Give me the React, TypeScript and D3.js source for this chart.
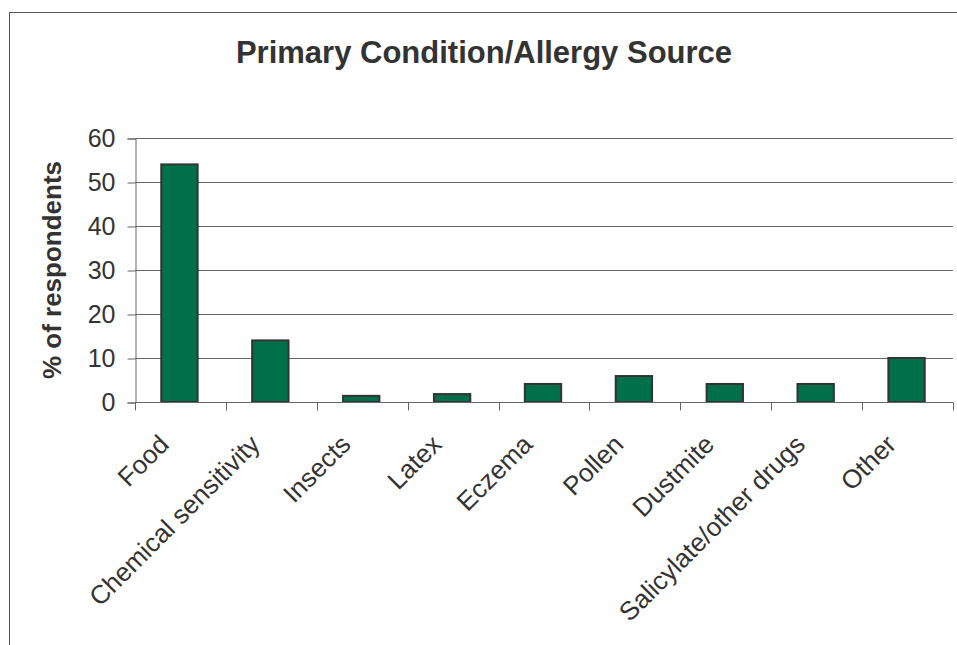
import React, { useEffect, useRef } from 'react';
import * as d3 from 'd3';

const categories = [
  'Food',
  'Chemical sensitivity',
  'Insects',
  'Latex',
  'Eczema',
  'Pollen',
  'Dustmite',
  'Salicylate/other drugs',
  'Other',
];
const values = [54, 14, 1.4, 1.8, 4.1, 5.9, 4.1, 4.1, 10];
const yTicks = [0, 10, 20, 30, 40, 50, 60];

const App: React.FC = () => {
  const svgRef = useRef<SVGSVGElement>(null);

  useEffect(() => {
    if (!svgRef.current) return;
    const svg = d3.select(svgRef.current);
    svg.selectAll('*').remove();

    const width = 957;
    const height = 645;
    const left = 135;
    const right = 953;
    const top = 138;
    const bottom = 402;
    const textColor = '#333333';
    const lineColor = '#666666';
    const font = 'Arial, "Liberation Sans", Helvetica, sans-serif';

    svg.attr('width', width).attr('height', height);

    // outer chart frame (only left and top edges visible)
    svg.append('rect')
      .attr('x', 9.5)
      .attr('y', 12.5)
      .attr('width', 1000)
      .attr('height', 1000)
      .attr('fill', 'white')
      .attr('stroke', '#555')
      .attr('stroke-width', 1);

    const x = d3.scaleBand<string>().domain(categories).range([left, right]).padding(0);
    const y = d3.scaleLinear().domain([0, 60]).range([bottom, top]);

    // title
    svg.append('text')
      .attr('x', 484)
      .attr('y', 63)
      .attr('text-anchor', 'middle')
      .style('font-family', font)
      .style('font-size', '31px')
      .style('font-weight', 'bold')
      .attr('fill', textColor)
      .text('Primary Condition/Allergy Source');

    // gridlines
    svg.append('g')
      .selectAll('line')
      .data(yTicks.filter((t) => t > 0))
      .enter().append('line')
      .attr('x1', left)
      .attr('x2', right)
      .attr('y1', (d) => Math.round(y(d)) + 0.5)
      .attr('y2', (d) => Math.round(y(d)) + 0.5)
      .attr('stroke', lineColor)
      .attr('stroke-width', 1);

    // y axis
    const yAxis = svg.append('g')
      .attr('transform', `translate(${left + 0.5},0.5)`)
      .call(d3.axisLeft(y).tickValues(yTicks).tickSize(8).tickPadding(12).tickFormat(d3.format('d')));
    yAxis.select('.domain').attr('stroke', lineColor);
    yAxis.selectAll('.tick line').attr('stroke', lineColor);
    yAxis.selectAll('.tick text')
      .attr('fill', textColor)
      .style('font-family', font)
      .style('font-size', '25px');

    // bars
    const barW = x.bandwidth() * 0.4;
    svg.append('g')
      .selectAll('rect')
      .data(values)
      .enter().append('rect')
      .attr('x', (_d, i) => (x(categories[i]) as number) + (x.bandwidth() - barW) / 2 - 1)
      .attr('y', (d) => y(d))
      .attr('width', barW)
      .attr('height', (d) => y(0) - y(d))
      .attr('fill', '#00704A')
      .attr('stroke', '#333333')
      .attr('stroke-width', 2);

    // x axis
    const xAxisG = svg.append('g').attr('transform', `translate(0,${bottom + 0.5})`);
    xAxisG.append('line')
      .attr('x1', left)
      .attr('x2', right)
      .attr('stroke', lineColor);
    xAxisG.selectAll('.xtick')
      .data([...categories.map((c) => x(c) as number), right])
      .enter().append('line')
      .attr('class', 'xtick')
      .attr('x1', (d) => Math.round(d) + 0.5)
      .attr('x2', (d) => Math.round(d) + 0.5)
      .attr('y1', 0)
      .attr('y2', 8)
      .attr('stroke', lineColor);

    // category labels
    svg.append('g')
      .selectAll('text')
      .data(categories)
      .enter().append('text')
      .attr('transform', (d) => `translate(${(x(d) as number) + x.bandwidth() / 2 - 10},${bottom + 44}) rotate(-45)`)
      .attr('text-anchor', 'end')
      .style('font-family', font)
      .style('font-size', '26px')
      .attr('fill', textColor)
      .text((d) => d);

    // y axis title
    svg.append('text')
      .attr('transform', `translate(61,${(top + bottom) / 2}) rotate(-90)`)
      .attr('text-anchor', 'middle')
      .style('font-family', font)
      .style('font-size', '26px')
      .style('font-weight', 'bold')
      .attr('fill', textColor)
      .text('% of respondents');
  }, []);

  return (
    <div style={{ position: 'absolute', left: 0, top: 0 }}>
      <svg ref={svgRef} style={{ display: 'block' }}></svg>
    </div>
  );
};

export default App;
